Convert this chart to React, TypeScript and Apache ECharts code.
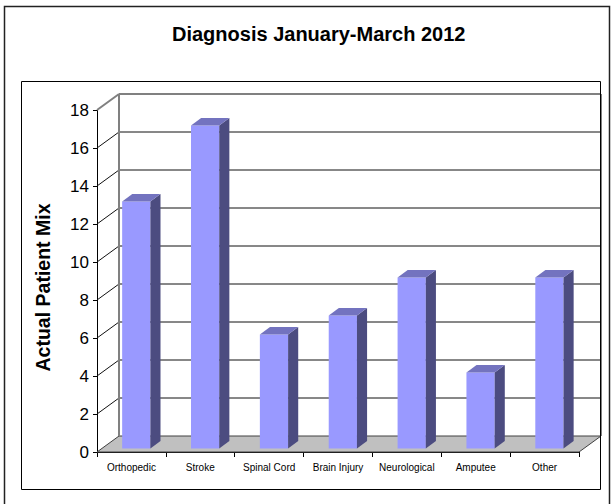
import React, { useEffect, useRef } from "react";
import * as echarts from "echarts";

const categories = ["Orthopedic", "Stroke", "Spinal Cord", "Brain Injury", "Neurological", "Amputee", "Other"];
const patientMix = [13, 17, 6, 7, 9, 4, 9];
const yTicks = [0, 2, 4, 6, 8, 10, 12, 14, 16, 18];
const chartTitle = "Diagnosis January-March 2012";
const yAxisTitle = "Actual Patient Mix";

const DX = 22;
const DY = 16;
const F1 = 0.22;
const F2 = 0.68;
const BAR_W = 0.41;

export default function App() {
  const ref = useRef<HTMLDivElement>(null);
  useEffect(() => {
    const chart = echarts.init(ref.current as HTMLDivElement, null, { renderer: "svg" });
    const font = "'Liberation Sans', Arial, sans-serif";
    const yMax = yTicks[yTicks.length - 1];
    chart.setOption({
      animation: false,
      backgroundColor: "#ffffff",
      title: {
        text: chartTitle,
        left: 172,
        top: 24,
        padding: 0,
        textStyle: { fontSize: 20, fontWeight: "bold", color: "#000", fontFamily: font },
      },
      grid: { left: 97, right: 35, top: 110, bottom: 52 },
      xAxis: {
        type: "category",
        data: categories,
        axisLine: { show: true, lineStyle: { color: "#000", width: 1 } },
        axisTick: { show: true, length: 5, lineStyle: { color: "#000" } },
        axisLabel: { fontSize: 10, color: "#000", fontFamily: font, margin: 10, interval: 0 },
        splitLine: { show: false },
      },
      yAxis: {
        type: "value",
        min: 0,
        max: yMax,
        interval: 2,
        axisLine: { show: true, lineStyle: { color: "#000", width: 1 } },
        axisTick: { show: true, length: 4, lineStyle: { color: "#000" } },
        axisLabel: { fontSize: 17, color: "#000", margin: 8, fontFamily: font },
        splitLine: { show: false },
        name: yAxisTitle,
        nameLocation: "middle",
        nameGap: 44,
        nameTextStyle: { fontSize: 19.5, fontWeight: "bold", color: "#000", fontFamily: font, padding: [0, 13, 0, 0] },
      },
      graphic: [
        { type: "rect", z: 100, shape: { x: 4.5, y: 6.5, width: 605, height: 520 }, style: { fill: "none", stroke: "#222", lineWidth: 1.5 } },
        { type: "rect", z: 100, shape: { x: 21.5, y: 81.5, width: 579, height: 408 }, style: { fill: "none", stroke: "#000", lineWidth: 1 } },
      ],
      series: [
        {
          type: "custom",
          z: 1,
          clip: false,
          silent: true,
          data: [[0, 0]],
          renderItem: (params: any, api: any) => {
            const cs = params.coordSys;
            const x0 = cs.x;
            const x1 = cs.x + cs.width;
            const yb = api.coord([0, 0])[1];
            const yt = api.coord([0, yMax])[1];
            const children: any[] = [];
            children.push({
              type: "polygon",
              shape: { points: [[x0, yb], [x0 + DX, yb - DY], [x1 + DX, yb - DY], [x1, yb]] },
              style: { fill: "#c0c0c0", stroke: "#404040", lineWidth: 1 },
            });
            yTicks.forEach((v) => {
              if (v === 0) return;
              const y = api.coord([0, v])[1];
              const isTop = v === yMax;
              const stroke = isTop ? "#808080" : "#111";
              const lw = isTop ? 2 : 1;
              children.push({ type: "line", shape: { x1: x0 + DX, y1: y - DY, x2: x1 + DX, y2: y - DY }, style: { stroke, lineWidth: lw } });
              children.push({ type: "line", shape: { x1: x0, y1: y, x2: x0 + DX, y2: y - DY }, style: { stroke, lineWidth: lw } });
            });
            children.push({ type: "line", shape: { x1: x0 + DX, y1: yt - DY, x2: x0 + DX, y2: yb - DY }, style: { stroke: "#808080", lineWidth: 2 } });
            children.push({ type: "line", shape: { x1: x1 + DX, y1: yt - DY, x2: x1 + DX, y2: yb - DY }, style: { stroke: "#808080", lineWidth: 2 } });
            return { type: "group", children };
          },
        },
        {
          type: "custom",
          z: 3,
          clip: false,
          data: patientMix.map((v, i) => [i, v]),
          renderItem: (params: any, api: any) => {
            const i = api.value(0);
            const v = api.value(1);
            const base = api.coord([i, 0]);
            const top = api.coord([i, v]);
            const band = api.size([1, 0])[0];
            const w = band * BAR_W;
            const fx = F1 * DX;
            const fy = F1 * DY;
            const ddx = (F2 - F1) * DX;
            const ddy = (F2 - F1) * DY;
            const xl = base[0] - w / 2 + fx;
            const xr = base[0] + w / 2 + fx;
            const yt = top[1] - fy;
            const yb = base[1] - fy;
            return {
              type: "group",
              children: [
                { type: "rect", shape: { x: xl, y: yt, width: w, height: yb - yt }, style: { fill: "#9999ff" } },
                { type: "polygon", shape: { points: [[xr, yt], [xr + ddx, yt - ddy], [xr + ddx, yb - ddy], [xr, yb]] }, style: { fill: "#4c4c80" } },
                { type: "polygon", shape: { points: [[xl, yt], [xl + ddx, yt - ddy], [xr + ddx, yt - ddy], [xr, yt]] }, style: { fill: "#7373bf" } },
              ],
            };
          },
        },
      ],
    });
    return () => chart.dispose();
  }, []);
  return <div ref={ref} style={{ position: "fixed", left: 0, top: 0, width: 614, height: 504 }} />;
}
